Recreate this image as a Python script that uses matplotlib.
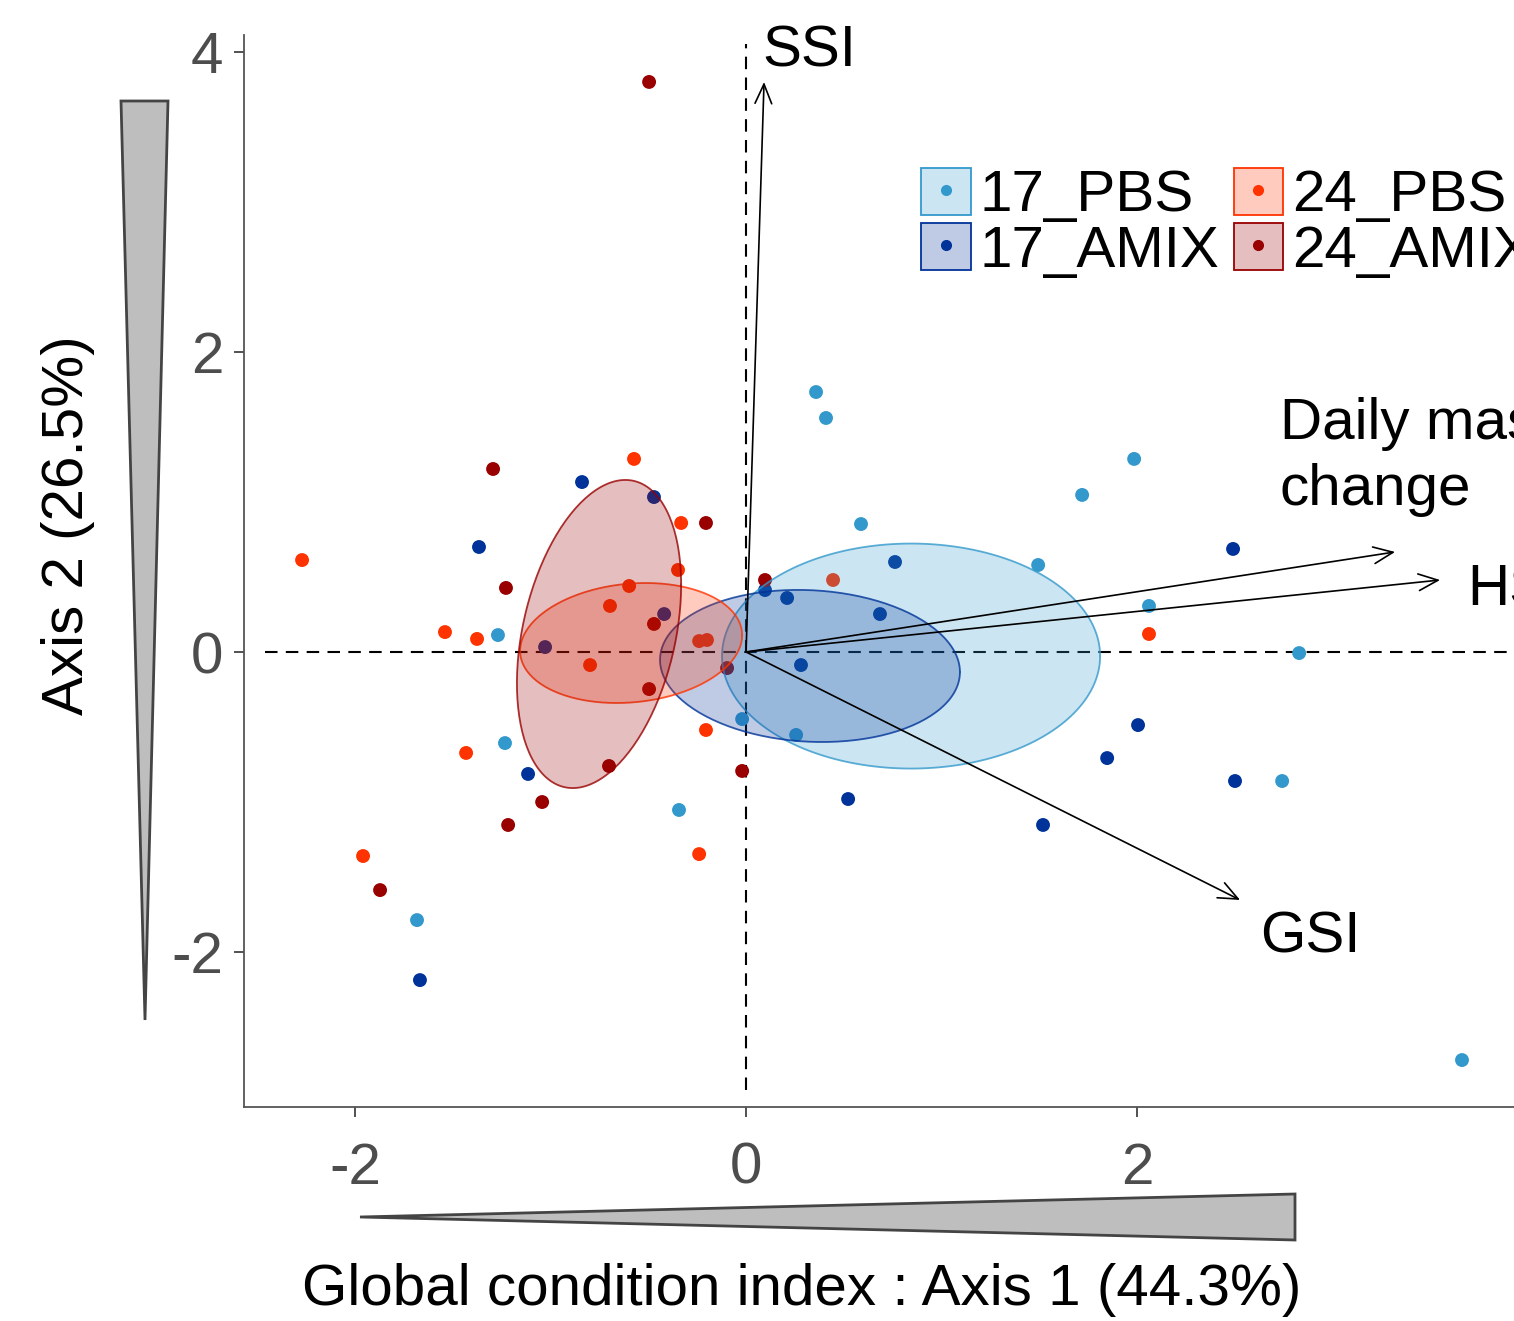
import matplotlib
matplotlib.use("Agg")
import matplotlib.pyplot as plt
import numpy as np
from matplotlib.patches import Polygon, Patch
from matplotlib.lines import Line2D
from matplotlib.legend_handler import HandlerTuple

plt.rcParams['font.family'] = ['Liberation Sans', 'DejaVu Sans']

# group scores on axes 1 and 2
pbs17_x = [0.358, 0.409, 0.588, 1.985, 1.719, 1.494, 2.061, 2.829, 2.742, 3.662,
           -0.02, 0.256, -0.343, -1.233, -1.269, -1.683]
pbs17_y = [1.733, 1.56, 0.853, 1.287, 1.047, 0.58, 0.307, -0.007, -0.86, -2.72,
           -0.447, -0.553, -1.053, -0.607, 0.113, -1.787]
amix17_x = [-0.839, -1.366, -0.471, -0.419, -1.028, -1.115, -1.668, 0.097, 0.21,
            0.762, 0.685, 0.281, 0.522, 1.519, 1.847, 2.005, 2.491, 2.501]
amix17_y = [1.133, 0.70, 1.033, 0.253, 0.033, -0.813, -2.187, 0.413, 0.36,
            0.60, 0.253, -0.087, -0.98, -1.153, -0.707, -0.487, 0.687, -0.86]
pbs24_x = [-2.271, -0.573, -0.332, -0.348, -0.598, -0.696, -0.798, -1.54, -1.376,
           -1.432, -1.959, -0.24, -0.20, -0.205, -0.24, 0.445, 2.061]
pbs24_y = [0.613, 1.287, 0.86, 0.547, 0.44, 0.307, -0.087, 0.133, 0.087,
           -0.673, -1.36, 0.073, 0.08, -0.52, -1.347, 0.48, 0.12]
amix24_x = [-0.496, -1.294, -0.205, -1.228, -0.471, -0.496, -0.701, -1.043, -1.217,
            -1.872, -0.02, -0.097, 0.097]
amix24_y = [3.8, 1.22, 0.86, 0.427, 0.187, -0.247, -0.76, -1.0, -1.153,
            -1.587, -0.793, -0.107, 0.48]

groups = ['17_PBS', '17_AMIX', '24_PBS', '24_AMIX']
colors = ['#3399cc', '#003399', '#ff3300', '#990000']
group_x = [pbs17_x, amix17_x, pbs24_x, amix24_x]
group_y = [pbs17_y, amix17_y, pbs24_y, amix24_y]

# ellipse summaries: centre, half extent in x and y, correlation
ell_cx = [0.844, 0.327, -0.588, -0.752]
ell_cy = [-0.027, -0.093, 0.06, 0.12]
ell_hx = [0.967, 0.767, 0.568, 0.42]
ell_hy = [0.75, 0.507, 0.40, 1.027]
ell_rho = [0.0, -0.08, 0.13, 0.32]

# variable loadings
var_names = ['SSI', 'Daily mass\nchange', 'HSI', 'GSI']
var_x = [0.092, 3.32, 3.55, 2.527]
var_y = [3.8, 0.667, 0.48, -1.653]
lab_x = [0.082, 2.731, 3.688, 2.629]
lab_y = [4.0, 1.30, 0.413, -1.9]

W, H = 1514, 1321
fig = plt.figure(figsize=(W / 100, H / 100), dpi=100)
ax = fig.add_axes([244 / W, 1 - 1107 / H, 1 - 244 / W, (1107 - 35) / H])
ax.set_xlim(-2.568, 3.928)
ax.set_ylim(-3.033, 4.113)

ax.plot([0, 0], [-2.92, 4.05], ls=(0, (6, 4)), color='black', lw=1.5, zorder=1)
ax.plot([-2.46, 4.5], [0, 0], ls=(0, (6, 4)), color='black', lw=1.5, zorder=1)

for gx, gy, c in zip(group_x, group_y, colors):
    ax.scatter(gx, gy, s=100, color=c, edgecolors='none', zorder=2)

t = np.linspace(0, 2 * np.pi, 200)
for cx, cy, hx, hy, r, c in zip(ell_cx, ell_cy, ell_hx, ell_hy, ell_rho, colors):
    ex = cx + hx * np.cos(t)
    ey = cy + hy * np.cos(t + np.arccos(r))
    ax.fill(ex, ey, facecolor=c, alpha=0.25, edgecolor='none', zorder=3)
    ax.plot(ex, ey, color=c, lw=1.3, alpha=0.8, zorder=3)

for vx, vy in zip(var_x, var_y):
    ax.annotate('', xy=(vx, vy), xytext=(0, 0),
                arrowprops=dict(arrowstyle='->,head_length=0.7,head_width=0.3',
                                mutation_scale=20, lw=1.2, color='black',
                                shrinkA=0, shrinkB=0), zorder=4)
for name, lx, ly in zip(var_names, lab_x, lab_y):
    ax.text(lx, ly, name, fontsize=42, ha='left', va='center',
            linespacing=1.3, clip_on=False, zorder=5)

ax.spines['top'].set_visible(False)
ax.spines['right'].set_visible(False)
for s in ['left', 'bottom']:
    ax.spines[s].set_color('#555555')
    ax.spines[s].set_linewidth(1.3)
ax.set_xticks([-2, 0, 2])
ax.set_yticks([-2, 0, 2, 4])
ax.set_xticklabels(['-2', '0', '2'])
ax.set_yticklabels(['-2', '0', '2', '4'])
ax.tick_params(axis='both', length=7, width=1.2, color='#333333',
               labelsize=42, labelcolor='#4d4d4d')
ax.tick_params(axis='x', pad=18)
ax.tick_params(axis='y', pad=8)

handles = [(Patch(facecolor=c + '40', edgecolor=c, lw=1.3),
            Line2D([], [], ls='none', marker='o', markersize=8,
                   markerfacecolor=c, markeredgecolor='none'))
           for c in colors]
leg = ax.legend(handles, groups, handler_map={tuple: HandlerTuple(ndivide=1, pad=0)},
                ncol=2, fontsize=42, frameon=False, handlelength=0.85,
                handleheight=0.85, handletextpad=0.15, columnspacing=0.25,
                labelspacing=0.0, borderaxespad=0, borderpad=0,
                loc='upper left', bbox_to_anchor=(921 / W, 1 - 168 / H),
                bbox_transform=fig.transFigure)

# gradient wedges
fig.add_artist(Polygon([[121 / W, 1 - 101 / H], [168 / W, 1 - 101 / H],
                        [145 / W, 1 - 1020 / H]], closed=True,
                       facecolor='#bebebe', edgecolor='#444444', lw=2,
                       transform=fig.transFigure))
fig.add_artist(Polygon([[360 / W, 1 - 1217 / H], [1295 / W, 1 - 1194 / H],
                        [1295 / W, 1 - 1240 / H]], closed=True,
                       facecolor='#bebebe', edgecolor='#444444', lw=2,
                       transform=fig.transFigure))

fig.text(68 / W, 1 - 525 / H, 'Axis 2 (26.5%)', rotation=90, fontsize=42,
         ha='center', va='center')
fig.text(802 / W, 1 - 1290 / H, 'Global condition index : Axis 1 (44.3%)',
         fontsize=42, ha='center', va='center')

fig.savefig('out.png', dpi=100)
